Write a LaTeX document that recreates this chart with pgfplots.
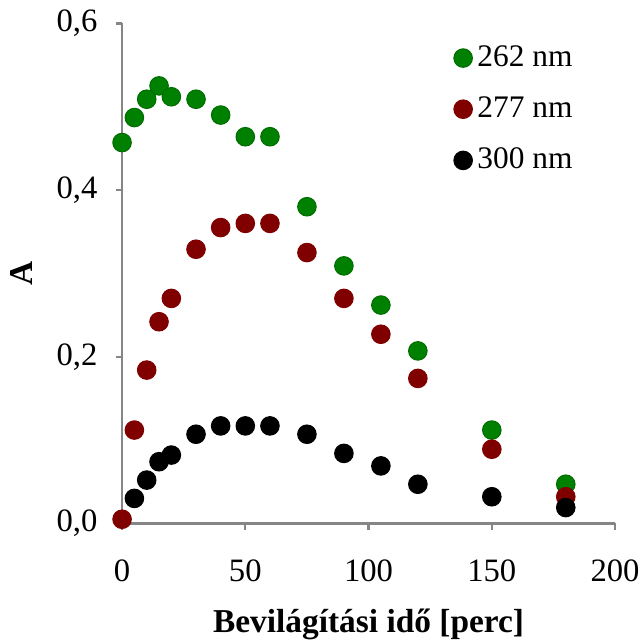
\documentclass[border=0pt]{standalone}
\usepackage{fontspec}
\setmainfont{Liberation Serif}
\usepackage{pgfplots}
\pgfplotsset{compat=1.18}
\definecolor{gr}{RGB}{0,128,0}
\definecolor{dr}{RGB}{128,0,0}
\definecolor{axgray}{RGB}{134,134,134}
\begin{document}
\fontsize{12}{14}\selectfont
\begin{tikzpicture}
\begin{axis}[
  width=196.4pt, height=199.2pt, scale only axis,
  xmin=0, xmax=200, ymin=0, ymax=0.6,
  axis x line*=bottom, axis y line*=left,
  axis line style={draw=axgray, line width=0.9pt},
  every tick/.style={draw=axgray, line width=0.9pt},
  tick align=outside, major tick length=2.6pt,
  xtick={0,50,100,150,200}, ytick={0,0.2,0.4,0.6},
  /pgf/number format/assume math mode=true,
  yticklabel style={/pgf/number format/fixed, /pgf/number format/fixed zerofill,
    /pgf/number format/precision=1, /pgf/number format/use comma, xshift=-3pt},
  ticklabel style={font=\fontsize{13}{15}\selectfont},
  xticklabel style={yshift=-7.5pt, inner xsep=0pt},
  xlabel={\textbf{Bevilágítási idő [perc]}},
  ylabel={\textbf{A}},
  label style={font=\fontsize{13.3}{16}\selectfont},
  xlabel style={inner sep=0pt, text depth=3pt, yshift=-6.8pt},
  ylabel style={yshift=1.6pt},
  legend style={at={(0.672,0.967)}, anchor=north west, draw=none, fill=none,
    font=\fontsize{12.5}{14}\selectfont, row sep=6.3pt, inner sep=0pt,
    /tikz/every even column/.append style={column sep=1.5pt}},
  legend cell align=left,
  clip=false,
]
\addplot[only marks, mark=*, mark size=3.7pt, mark options={fill=gr, draw=gr!85!black, line width=0.4pt}]
  coordinates {(0,0.457)(5,0.487)(10,0.509)(15,0.525)(20,0.512)(30,0.509)(40,0.490)(50,0.464)(60,0.464)
  (75,0.380)(90,0.309)(105,0.262)(120,0.207)(150,0.112)(180,0.047)};
\addplot[only marks, mark=*, mark size=3.7pt, mark options={fill=dr, draw=dr, line width=0.4pt}]
  coordinates {(0,0.005)(5,0.112)(10,0.184)(15,0.242)(20,0.270)(30,0.329)(40,0.355)(50,0.360)(60,0.360)
  (75,0.325)(90,0.270)(105,0.227)(120,0.174)(150,0.089)(180,0.032)};
\addplot[only marks, mark=*, mark size=3.7pt, mark options={fill=black, draw=black, line width=0.4pt}]
  coordinates {(5,0.030)(10,0.052)(15,0.074)(20,0.082)(30,0.107)(40,0.117)(50,0.117)(60,0.117)
  (75,0.107)(90,0.084)(105,0.069)(120,0.047)(150,0.032)(180,0.019)};
\legend{262 nm, 277 nm, 300 nm}
\end{axis}
\end{tikzpicture}
\end{document}
